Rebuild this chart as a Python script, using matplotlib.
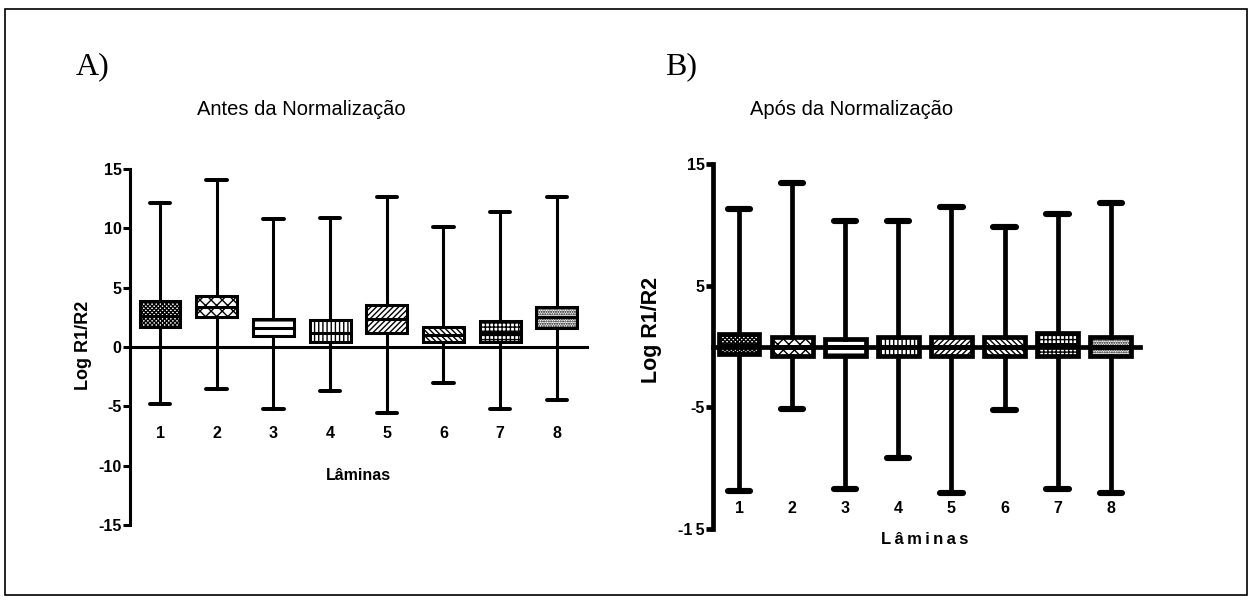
import numpy as np
import matplotlib
matplotlib.use("Agg")
import matplotlib.pyplot as plt
from matplotlib.patches import Rectangle

plt.rcParams['font.family'] = ['Liberation Sans', 'DejaVu Sans']
plt.rcParams['hatch.linewidth'] = 1.0

laminas = ['1', '2', '3', '4', '5', '6', '7', '8']

# Antes da normalização (box: q1, mediana, q3; whiskers: min, max)
antes_min = [-4.8, -3.5, -5.2, -3.7, -5.6, -3.0, -5.2, -4.5]
antes_q1 = [1.7, 2.5, 0.9, 0.4, 1.2, 0.4, 0.4, 1.6]
antes_med = [2.6, 3.4, 1.6, 1.2, 2.35, 1.0, 1.2, 2.55]
antes_q3 = [3.9, 4.3, 2.35, 2.3, 3.5, 1.7, 2.2, 3.4]
antes_max = [12.1, 14.1, 10.8, 10.9, 12.65, 10.1, 11.4, 12.65]

# Após a normalização
apos_min = [-11.9, -5.1, -11.7, -9.2, -12.0, -5.25, -11.7, -12.0]
apos_q1 = [-0.65, -0.8, -0.8, -0.8, -0.8, -0.8, -0.8, -0.8]
apos_med = [0.1, 0.0, 0.0, 0.0, 0.0, 0.0, 0.1, 0.0]
apos_q3 = [1.0, 0.75, 0.65, 0.75, 0.75, 0.75, 1.15, 0.75]
apos_max = [11.3, 13.4, 10.3, 10.3, 11.5, 9.8, 10.9, 11.8]

hatches = ['xxxxxxxx', 'xxx', '--', '||||', '//////', '\\\\\\\\\\\\', '++++', '.......']


def make_stats(lo, q1, med, q3, hi):
    return [dict(whislo=a, q1=b, med=c, q3=d, whishi=e, label=l)
            for a, b, c, d, e, l in zip(lo, q1, med, q3, hi, laminas)]


def draw_panel(ax, stats, lw, width, capw, yticks, yticklabels, pad, xlim):
    pos = np.arange(1, len(stats) + 1)
    res = ax.bxp(stats, positions=pos, widths=width, capwidths=capw,
                 showfliers=False, patch_artist=True,
                 boxprops=dict(facecolor='white', edgecolor='black', linewidth=lw),
                 medianprops=dict(color='black', linewidth=lw, solid_capstyle='butt'),
                 whiskerprops=dict(color='black', linewidth=lw),
                 capprops=dict(color='black', linewidth=lw * 1.3, solid_capstyle='round'))
    for box, h in zip(res['boxes'], hatches):
        box.set_hatch(h)
    ax.set_xlim(*xlim)
    ax.set_ylim(-15, 15)
    ax.spines['top'].set_visible(False)
    ax.spines['right'].set_visible(False)
    ax.spines['bottom'].set_position(('data', 0))
    ax.spines['bottom'].set_linewidth(lw)
    ax.spines['left'].set_linewidth(lw)
    ax.set_yticks(yticks)
    ax.set_yticklabels(yticklabels, fontsize=11.5, fontweight='bold')
    ax.set_xticks(pos)
    ax.set_xticklabels(laminas, fontsize=11.5, fontweight='bold')
    ax.tick_params(axis='x', length=0, pad=pad)
    ax.tick_params(axis='y', direction='out', length=5, width=lw, pad=1)
    ax.patch.set_alpha(0)


fig = plt.figure(figsize=(12.52, 6.05), dpi=100)

ax1 = fig.add_axes([0.1038, 0.1322, 0.365, 0.5884])
draw_panel(ax1, make_stats(antes_min, antes_q1, antes_med, antes_q3, antes_max),
           lw=2.2, width=0.72, capw=0.36,
           yticks=[15, 10, 5, 0, -5, -10, -15],
           yticklabels=['15', '10', '5', '0', '-5', '-10', '-15'],
           pad=57, xlim=(0.47, 8.53))

ax2 = fig.add_axes([0.5695, 0.1256, 0.341, 0.6033])
draw_panel(ax2, make_stats(apos_min, apos_q1, apos_med, apos_q3, apos_max),
           lw=3.4, width=0.77, capw=0.42,
           yticks=[15, 5, -5, -15],
           yticklabels=['15', '5', '-5', '-1\u20095'],
           pad=111, xlim=(0.51, 8.55))

# rótulos dos painéis e títulos
fig.text(76 / 1252, 1 - 74 / 605, 'A)', family='Liberation Serif', fontsize=23,
         ha='left', va='baseline')
fig.text(665 / 1252, 1 - 74 / 605, 'B)', family='Liberation Serif', fontsize=23,
         ha='left', va='baseline')
fig.text(197 / 1252, 1 - 115 / 605, 'Antes da Normalização', fontsize=14.5,
         ha='left', va='baseline')
fig.text(750 / 1252, 1 - 115 / 605, 'Após da Normalização', fontsize=14.5,
         ha='left', va='baseline')

fig.text(84 / 1252, 1 - 345 / 605, 'Log R1/R2', fontsize=13, fontweight='bold',
         rotation=90, ha='center', va='center')
fig.text(652 / 1252, 1 - 330 / 605, 'Log R1/R2', fontsize=15.5, fontweight='bold',
         rotation=90, ha='center', va='center')

fig.text(358 / 1252, 1 - 475 / 605, 'Lâminas', fontsize=11.5, fontweight='bold',
         ha='center', va='center')
fig.text(925 / 1252, 1 - 540 / 605, 'L\u2009â\u2009m\u2009i\u2009n\u2009a\u2009s',
         fontsize=12, fontweight='bold', ha='center', va='center')

fig.patches.append(Rectangle((5 / 1252, 10 / 605), 1242 / 1252, 586 / 605,
                             transform=fig.transFigure, fill=False,
                             edgecolor='black', linewidth=1.2))

fig.savefig('out.png', dpi=100)
